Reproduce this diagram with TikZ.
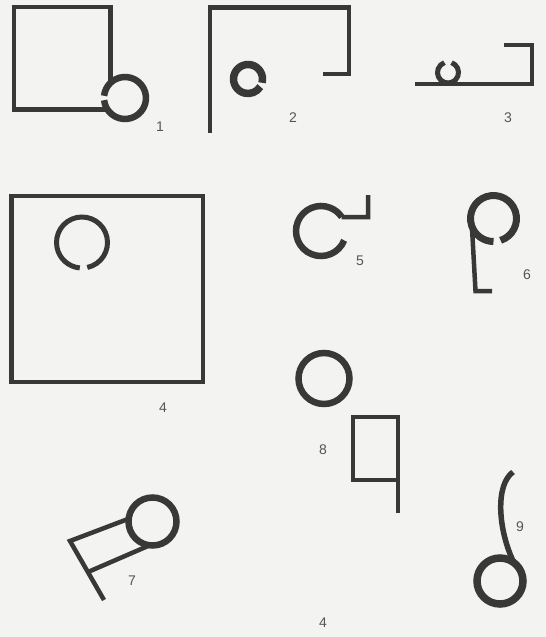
\documentclass[tikz,border=0pt]{standalone}
\usepackage{fontspec}
\setmainfont{Liberation Sans}
\definecolor{bg}{HTML}{F3F3F1}
\definecolor{ink}{HTML}{383838}
\definecolor{labc}{HTML}{555555}
\begin{document}
\begin{tikzpicture}[x=1pt,y=1pt,
  ln/.style={draw=ink, line width=4.5pt},
  ring/.style={draw=ink, line width=6.5pt},
  lab/.style={text=labc, font=\fontsize{14}{14}\selectfont, inner sep=0pt}]
\fill[bg] (0,0) rectangle (546,-637);
\useasboundingbox (0,0) rectangle (546,-637);
% figure 1
\draw[ln] (110.5,-84) -- (110.5,-7) -- (14,-7) -- (14,-109.5) -- (107,-109.5);
\draw[ring] (125,-98) ++(-174:21pt) arc[start angle=-174, end angle=174, radius=21pt];
\node[lab] (l1) at (160,-127) {1};
% figure 2
\draw[ln] (210,-133) -- (210,-7.5) -- (349,-7.5) -- (349,-74) -- (323,-74);
\draw[ring, line width=7.5pt] (248,-79) ++(-15:14.5pt) arc[start angle=-15, end angle=328, radius=14.5pt];
\node[lab] (l2) at (293,-118) {2};
% figure 3
\draw[ln] (504,-45) -- (532,-45) -- (532,-84) -- (415,-84);
\draw[ring, line width=5pt] (448,-72.5) ++(70:10.5pt) arc[start angle=70, end angle=-250, radius=10.5pt];
\node[lab] (l3) at (508,-118) {3};
% figure 4
\draw[ln] (11.7,-196) rectangle (203,-382);
\draw[ring, line width=5pt] (82,-242.5) ++(-78:25.5pt) arc[start angle=-78, end angle=265, radius=25.5pt];
\node[lab] (l4) at (163,-408) {4};
% figure 5
\draw[ring] (321,-231) ++(-22:25pt) arc[start angle=-22, end angle=-326, radius=25pt] coordinate (c5);
\draw[ln] (c5) -- (368,-217) -- (368,-195);
\node[lab] (l5) at (360,-261) {5};
% figure 6
\draw[ring, line width=7pt] (493.5,-218.5) ++(-72:23pt) arc[start angle=-72, end angle=270, radius=23pt];
\draw[ln] (472,-228) -- (475.5,-291) -- (492,-291);
\node[lab] (l6) at (527,-275) {6};
% figure 7
\draw[ring] (152.5,-521.5) circle[radius=24pt];
\draw[ln] (128,-519) -- (70,-541) -- (104,-600);
\draw[ln] (88,-572) -- (148,-546);
\node[lab] (l7) at (132,-581) {7};
% figure 8
\draw[ring] (324,-378.5) circle[radius=25.5pt];
\draw[ln] (398,-513) -- (398,-417) -- (353,-417) -- (353,-480) -- (398,-480);
\node[lab] (l8) at (323,-450) {8};
% figure 9
\draw[ring, line width=7.5pt] (500,-581) circle[radius=23pt];
\draw[ln, line width=5.5pt] (514,-563) .. controls (498,-530) and (495,-485) .. (513,-472);
\node[lab] (l9) at (520,-527) {9};
% bottom label
\node[lab] (lb) at (323,-623) {4};
\end{tikzpicture}
\end{document}
